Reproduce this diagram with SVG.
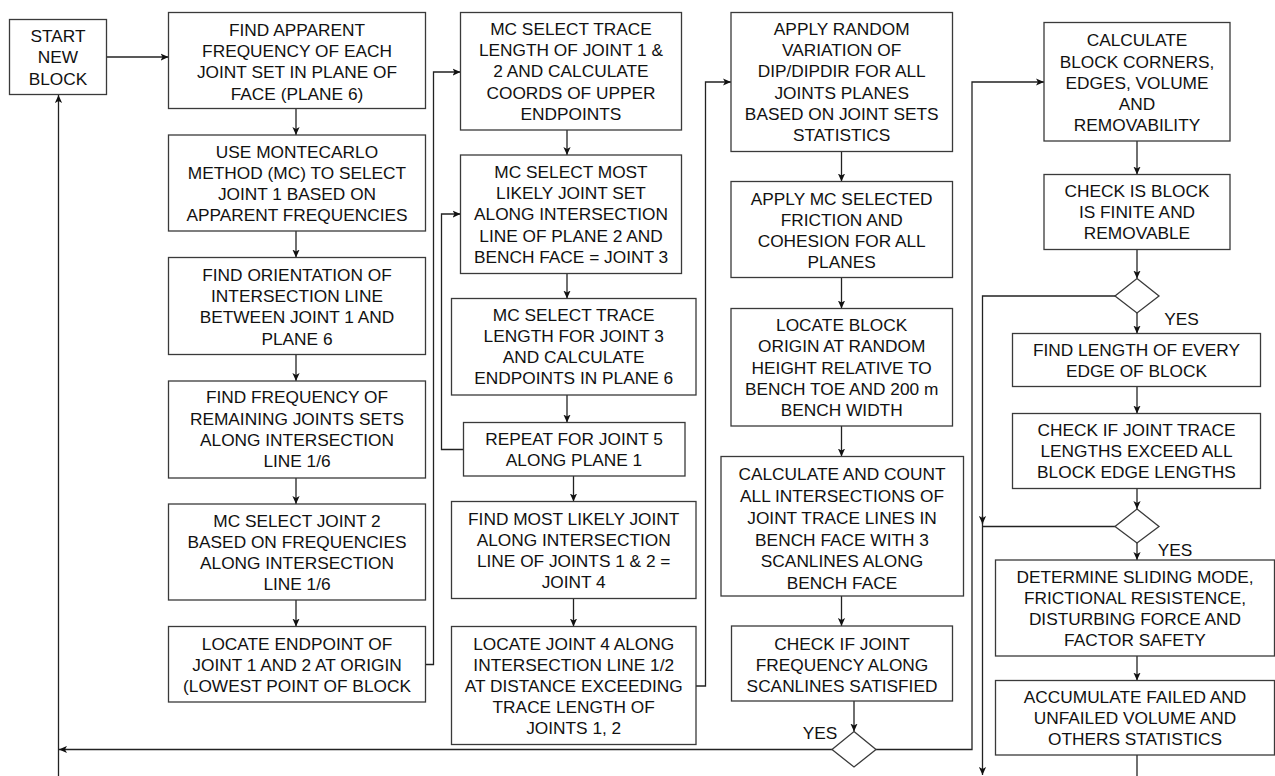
<svg xmlns="http://www.w3.org/2000/svg" width="1275" height="776" viewBox="0 0 1275 776">
<defs>
<marker id="ah" viewBox="0 0 10 10" refX="10" refY="5" markerWidth="8" markerHeight="8" orient="auto" markerUnits="userSpaceOnUse">
<path d="M0,0.5 L10,5 L0,9.5 L2.5,5 z" fill="#111"/>
</marker>
<style>
.box{fill:#fff;stroke:#3a3a3a;stroke-width:1.3}
.dia{fill:#fff;stroke:#3a3a3a;stroke-width:1.3}
.t{font-family:"Liberation Sans",Arial,sans-serif;font-size:17.3px;fill:#111;text-anchor:middle}
.c{fill:none;stroke:#222;stroke-width:1.3}
.a{marker-end:url(#ah)}
</style>
</defs>
<rect width="1275" height="776" fill="#fff"/>

<g id="connectors">
<path class="c a" d="M106.5,57 H168.5"/>
<path class="c a" d="M296,108.5 V135"/>
<path class="c a" d="M296,231 V257.5"/>
<path class="c a" d="M296,354.5 V381"/>
<path class="c a" d="M296,478 V504"/>
<path class="c a" d="M296,600 V626.5"/>
<path class="c a" d="M425.5,664.5 H433.5 V72 H460.5"/>
<path class="c a" d="M567,130 V155"/>
<path class="c a" d="M567,273.5 V298.5"/>
<path class="c a" d="M567,395 V422.5"/>
<path class="c a" d="M573.5,476 V501.5"/>
<path class="c a" d="M573.5,598.5 V626.5"/>
<path class="c a" d="M463.5,449.5 H441.5 V214 H460.5"/>
<path class="c a" d="M696,686 H705.5 V82 H731"/>
<path class="c a" d="M841.5,151.5 V181.5"/>
<path class="c a" d="M841.5,277.5 V308.5"/>
<path class="c a" d="M841.5,426 V456.5"/>
<path class="c a" d="M841.5,596 V626"/>
<path class="c a" d="M854,701 V731.5"/>
<path class="c a" d="M832,749.5 H59"/>
<path class="c a" d="M58.5,776 V95"/>
<path class="c a" d="M876,749.5 H972 V82 H1044"/>
<path class="c a" d="M1137,141 V174.5"/>
<path class="c a" d="M1137,249.5 V278.5"/>
<path class="c a" d="M1115,296 H982.5 V775"/>
<path class="c a" d="M1137,313 V333.5"/>
<path class="c a" d="M1137,386.5 V413.5"/>
<path class="c a" d="M1137,488.5 V509"/>
<path class="c a" d="M1115,526.5 H982.5 M982.5,516 V524"/>
<path class="c a" d="M1137,543 V560"/>
<path class="c a" d="M1137,656 V680.5"/>
<path class="c" d="M1137,755 V776"/>
</g>

<g id="start">
<rect class="box" x="9.5" y="19.5" width="97" height="75"/>
<text class="t" x="58" y="41.5">START</text>
<text class="t" x="58" y="63">NEW</text>
<text class="t" x="58" y="84.5">BLOCK</text>
</g>

<g id="b1">
<rect class="box" x="168.5" y="12.5" width="257" height="96"/>
<text class="t" x="297" y="36">FIND APPARENT</text>
<text class="t" x="297" y="57">FREQUENCY OF EACH</text>
<text class="t" x="297" y="78">JOINT SET IN PLANE OF</text>
<text class="t" x="297" y="99.5">FACE (PLANE 6)</text>
</g>
<g id="b2">
<rect class="box" x="168.5" y="135" width="257" height="96"/>
<text class="t" x="297" y="158">USE MONTECARLO</text>
<text class="t" x="297" y="178.5">METHOD (MC) TO SELECT</text>
<text class="t" x="297" y="199.5">JOINT 1 BASED ON</text>
<text class="t" x="297" y="221">APPARENT FREQUENCIES</text>
</g>
<g id="b3">
<rect class="box" x="168.5" y="257.5" width="257" height="97"/>
<text class="t" x="297" y="281">FIND ORIENTATION OF</text>
<text class="t" x="297" y="302">INTERSECTION LINE</text>
<text class="t" x="297" y="323">BETWEEN JOINT 1 AND</text>
<text class="t" x="297" y="344.5">PLANE 6</text>
</g>
<g id="b4">
<rect class="box" x="168.5" y="381" width="257" height="97"/>
<text class="t" x="297" y="403">FIND FREQUENCY OF</text>
<text class="t" x="297" y="424.5">REMAINING JOINTS SETS</text>
<text class="t" x="297" y="445.5">ALONG INTERSECTION</text>
<text class="t" x="297" y="467">LINE 1/6</text>
</g>
<g id="b5">
<rect class="box" x="168.5" y="504" width="257" height="96"/>
<text class="t" x="297" y="527">MC SELECT JOINT 2</text>
<text class="t" x="297" y="548">BASED ON FREQUENCIES</text>
<text class="t" x="297" y="569">ALONG INTERSECTION</text>
<text class="t" x="297" y="590">LINE 1/6</text>
</g>
<g id="b6">
<rect class="box" x="168.5" y="626.5" width="257" height="75.5"/>
<text class="t" x="297" y="650">LOCATE ENDPOINT OF</text>
<text class="t" x="297" y="670.5">JOINT 1 AND 2 AT ORIGIN</text>
<text class="t" x="297" y="692">(LOWEST POINT OF BLOCK</text>
</g>

<g id="c1">
<rect class="box" x="460.5" y="12.5" width="221" height="117.5"/>
<text class="t" x="571" y="35">MC SELECT TRACE</text>
<text class="t" x="571" y="56">LENGTH OF JOINT 1 &amp;</text>
<text class="t" x="571" y="77">2 AND CALCULATE</text>
<text class="t" x="571" y="98.5">COORDS OF UPPER</text>
<text class="t" x="571" y="120">ENDPOINTS</text>
</g>
<g id="c2">
<rect class="box" x="460.5" y="155" width="221" height="118.5"/>
<text class="t" x="571" y="178">MC SELECT MOST</text>
<text class="t" x="571" y="199">LIKELY JOINT SET</text>
<text class="t" x="571" y="220">ALONG INTERSECTION</text>
<text class="t" x="571" y="241.5">LINE OF PLANE 2 AND</text>
<text class="t" x="571" y="263">BENCH FACE = JOINT 3</text>
</g>
<g id="c3">
<rect class="box" x="451.5" y="298.5" width="244.5" height="96.5"/>
<text class="t" x="573.7" y="321">MC SELECT TRACE</text>
<text class="t" x="573.7" y="342">LENGTH FOR JOINT 3</text>
<text class="t" x="573.7" y="363">AND CALCULATE</text>
<text class="t" x="573.7" y="383.5">ENDPOINTS IN PLANE 6</text>
</g>
<g id="c4">
<rect class="box" x="463.5" y="422.5" width="221.5" height="53.5"/>
<text class="t" x="574" y="445">REPEAT FOR JOINT 5</text>
<text class="t" x="574" y="465.5">ALONG PLANE 1</text>
</g>
<g id="c5">
<rect class="box" x="451.5" y="501.5" width="244.5" height="97"/>
<text class="t" x="573.7" y="524.5">FIND MOST LIKELY JOINT</text>
<text class="t" x="573.7" y="546">ALONG INTERSECTION</text>
<text class="t" x="573.7" y="567">LINE OF JOINTS 1 &amp; 2 =</text>
<text class="t" x="573.7" y="588">JOINT 4</text>
</g>
<g id="c6">
<rect class="box" x="451.5" y="626.5" width="244.5" height="118"/>
<text class="t" x="573.7" y="650">LOCATE JOINT 4 ALONG</text>
<text class="t" x="573.7" y="671">INTERSECTION LINE 1/2</text>
<text class="t" x="573.7" y="692">AT DISTANCE EXCEEDING</text>
<text class="t" x="573.7" y="713">TRACE LENGTH OF</text>
<text class="t" x="573.7" y="734">JOINTS 1, 2</text>
</g>

<g id="d1">
<rect class="box" x="731" y="12.5" width="221.5" height="139"/>
<text class="t" x="841.7" y="35">APPLY RANDOM</text>
<text class="t" x="841.7" y="56">VARIATION OF</text>
<text class="t" x="841.7" y="77">DIP/DIPDIR FOR ALL</text>
<text class="t" x="841.7" y="98.5">JOINTS PLANES</text>
<text class="t" x="841.7" y="120">BASED ON JOINT SETS</text>
<text class="t" x="841.7" y="141">STATISTICS</text>
</g>
<g id="d2">
<rect class="box" x="731" y="181.5" width="221.5" height="96"/>
<text class="t" x="841.7" y="204.5">APPLY MC SELECTED</text>
<text class="t" x="841.7" y="225.5">FRICTION AND</text>
<text class="t" x="841.7" y="246.5">COHESION FOR ALL</text>
<text class="t" x="841.7" y="268">PLANES</text>
</g>
<g id="d3">
<rect class="box" x="731" y="308.5" width="221.5" height="117.5"/>
<text class="t" x="841.7" y="331">LOCATE BLOCK</text>
<text class="t" x="841.7" y="352">ORIGIN AT RANDOM</text>
<text class="t" x="841.7" y="373.5">HEIGHT RELATIVE TO</text>
<text class="t" x="841.7" y="394.5">BENCH TOE AND 200 m</text>
<text class="t" x="841.7" y="415.5">BENCH WIDTH</text>
</g>
<g id="d4">
<rect class="box" x="721" y="456.5" width="242.5" height="139.5"/>
<text class="t" x="842" y="480">CALCULATE AND COUNT</text>
<text class="t" x="842" y="502">ALL INTERSECTIONS OF</text>
<text class="t" x="842" y="524">JOINT TRACE LINES IN</text>
<text class="t" x="842" y="545.5">BENCH FACE WITH 3</text>
<text class="t" x="842" y="567">SCANLINES ALONG</text>
<text class="t" x="842" y="588.5">BENCH FACE</text>
</g>
<g id="d5">
<rect class="box" x="731.5" y="626" width="221" height="75"/>
<text class="t" x="842" y="650">CHECK IF JOINT</text>
<text class="t" x="842" y="670.5">FREQUENCY ALONG</text>
<text class="t" x="842" y="692">SCANLINES SATISFIED</text>
</g>
<g id="dec3">
<polygon class="dia" points="854,731.5 876,749.5 854,767 832,749.5"/>
<text class="t" x="820" y="738.5">YES</text>
</g>

<g id="e1">
<rect class="box" x="1044" y="22.5" width="186" height="118.5"/>
<text class="t" x="1137" y="46">CALCULATE</text>
<text class="t" x="1137" y="67.5">BLOCK CORNERS,</text>
<text class="t" x="1137" y="88.5">EDGES, VOLUME</text>
<text class="t" x="1137" y="110">AND</text>
<text class="t" x="1137" y="131">REMOVABILITY</text>
</g>
<g id="e2">
<rect class="box" x="1044" y="174.5" width="186" height="75"/>
<text class="t" x="1137" y="197">CHECK IS BLOCK</text>
<text class="t" x="1137" y="217.5">IS FINITE AND</text>
<text class="t" x="1137" y="239">REMOVABLE</text>
</g>
<g id="dec1">
<polygon class="dia" points="1137,278.5 1159,296 1137,313 1115,296"/>
<text class="t" x="1181.5" y="324.5">YES</text>
</g>
<g id="e3">
<rect class="box" x="1012.5" y="333.5" width="248" height="53"/>
<text class="t" x="1136.5" y="356">FIND LENGTH OF EVERY</text>
<text class="t" x="1136.5" y="376.5">EDGE OF BLOCK</text>
</g>
<g id="e4">
<rect class="box" x="1012.5" y="413.5" width="248" height="75"/>
<text class="t" x="1136.5" y="436">CHECK IF JOINT TRACE</text>
<text class="t" x="1136.5" y="456.5">LENGTHS EXCEED ALL</text>
<text class="t" x="1136.5" y="478">BLOCK EDGE LENGTHS</text>
</g>
<g id="dec2">
<polygon class="dia" points="1137,509 1159,526.5 1137,543 1115,526.5"/>
<text class="t" x="1175" y="555.5">YES</text>
</g>
<g id="e5">
<rect class="box" x="995.5" y="560" width="279" height="96"/>
<text class="t" x="1135" y="583">DETERMINE SLIDING MODE,</text>
<text class="t" x="1135" y="604">FRICTIONAL RESISTENCE,</text>
<text class="t" x="1135" y="625">DISTURBING FORCE AND</text>
<text class="t" x="1135" y="646">FACTOR SAFETY</text>
</g>
<g id="e6">
<rect class="box" x="995.5" y="680.5" width="279" height="74.5"/>
<text class="t" x="1135" y="703">ACCUMULATE FAILED AND</text>
<text class="t" x="1135" y="724">UNFAILED VOLUME AND</text>
<text class="t" x="1135" y="745">OTHERS STATISTICS</text>
</g>
</svg>
